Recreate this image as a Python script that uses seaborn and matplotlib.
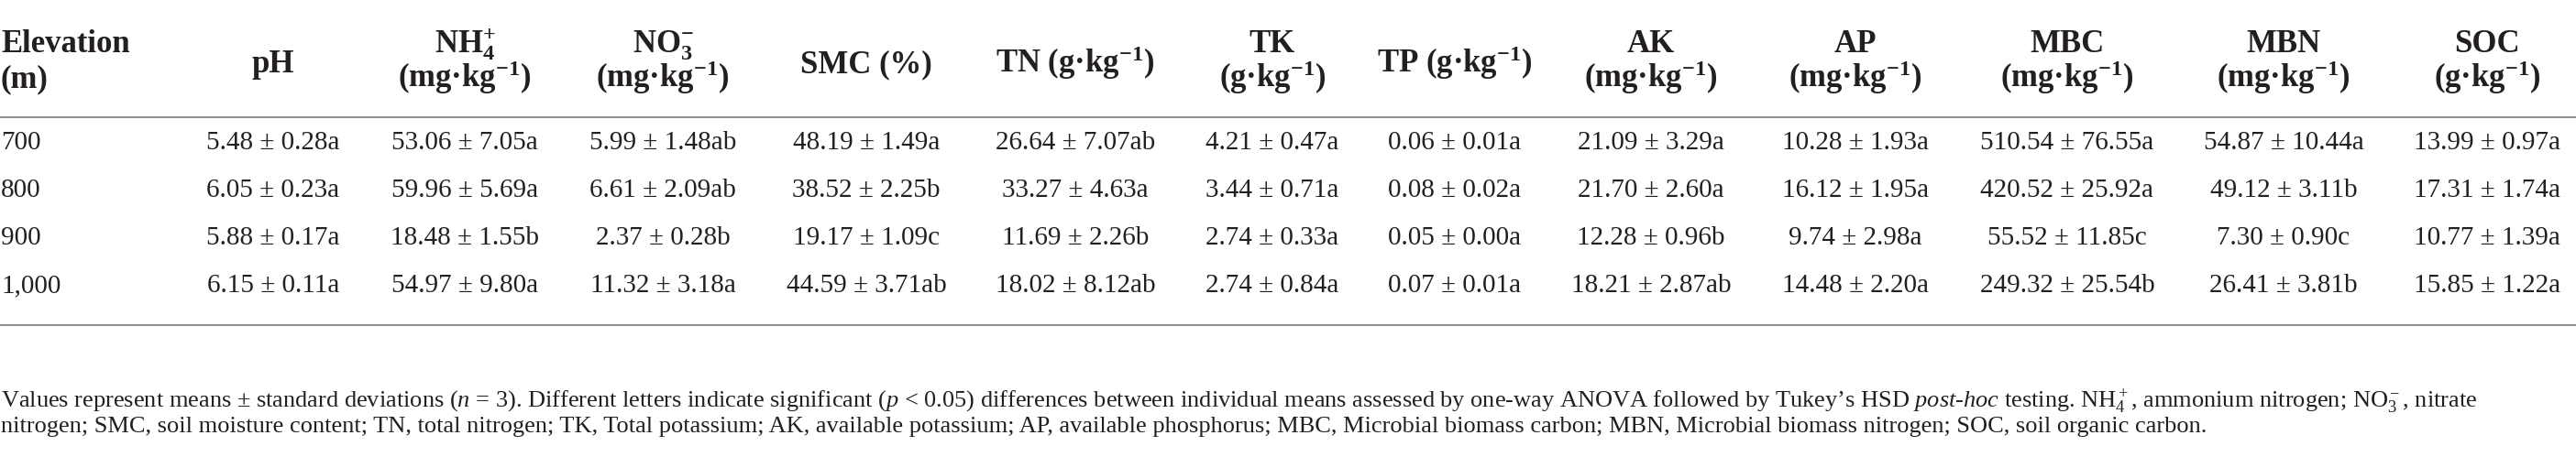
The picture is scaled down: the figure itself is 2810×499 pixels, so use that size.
import matplotlib
matplotlib.use("Agg")
import matplotlib.pyplot as plt
import seaborn as sns

# ─── Table values (mean, sd, Tukey group) ─────────────────────────
elevation = ["700", "800", "900", "1,000"]

ph  = [(5.48, 0.28, "a"), (6.05, 0.23, "a"), (5.88, 0.17, "a"), (6.15, 0.11, "a")]
nh4 = [(53.06, 7.05, "a"), (59.96, 5.69, "a"), (18.48, 1.55, "b"), (54.97, 9.80, "a")]
no3 = [(5.99, 1.48, "ab"), (6.61, 2.09, "ab"), (2.37, 0.28, "b"), (11.32, 3.18, "a")]
smc = [(48.19, 1.49, "a"), (38.52, 2.25, "b"), (19.17, 1.09, "c"), (44.59, 3.71, "ab")]
tn  = [(26.64, 7.07, "ab"), (33.27, 4.63, "a"), (11.69, 2.26, "b"), (18.02, 8.12, "ab")]
tk  = [(4.21, 0.47, "a"), (3.44, 0.71, "a"), (2.74, 0.33, "a"), (2.74, 0.84, "a")]
tp  = [(0.06, 0.01, "a"), (0.08, 0.02, "a"), (0.05, 0.00, "a"), (0.07, 0.01, "a")]
ak  = [(21.09, 3.29, "a"), (21.70, 2.60, "a"), (12.28, 0.96, "b"), (18.21, 2.87, "ab")]
ap  = [(10.28, 1.93, "a"), (16.12, 1.95, "a"), (9.74, 2.98, "a"), (14.48, 2.20, "a")]
mbc = [(510.54, 76.55, "a"), (420.52, 25.92, "a"), (55.52, 11.85, "c"), (249.32, 25.54, "b")]
mbn = [(54.87, 10.44, "a"), (49.12, 3.11, "b"), (7.30, 0.90, "c"), (26.41, 3.81, "b")]
soc = [(13.99, 0.97, "a"), (17.31, 1.74, "a"), (10.77, 1.39, "a"), (15.85, 1.22, "a")]

columns = [ph, nh4, no3, smc, tn, tk, tp, ak, ap, mbc, mbn, soc]

MG = r"(mg·kg$^{\mathbf{-1}}$)"
G = r"(g·kg$^{\mathbf{-1}}$)"
headers = [
    ["pH"],
    [r"NH$_{\mathbf{4}}^{\mathbf{+}}$", MG],
    [r"NO$_{\mathbf{3}}^{\mathbf{-}}$", MG],
    ["SMC (%)"],
    [r"TN (g·kg$^{\mathbf{-1}}$)"],
    ["TK", G],
    [r"TP (g·kg$^{\mathbf{-1}}$)"],
    ["AK", MG],
    ["AP", MG],
    ["MBC", MG],
    ["MBN", MG],
    ["SOC", G],
]

note_1 = (r"Values represent means ± standard deviations ($\mathit{n}$ = 3). Different letters "
          r"indicate significant ($\mathit{p}$ < 0.05) differences between individual means assessed "
          r"by one-way ANOVA followed by Tukey’s HSD $\mathit{post}$-$\mathit{hoc}$ testing. "
          r"NH$_4^+$, ammonium nitrogen; NO$_3^-$, nitrate")
note_2 = ("nitrogen; SMC, soil moisture content; TN, total nitrogen; TK, Total potassium; "
          "AK, available potassium; AP, available phosphorus; MBC, Microbial biomass carbon; "
          "MBN, Microbial biomass nitrogen; SOC, soil organic carbon.")

# ─── Style ────────────────────────────────────────────────────────
sns.set_theme(style="white")
plt.rcParams.update({
    "font.family": ["Liberation Serif", "DejaVu Serif"],
    "mathtext.fontset": "custom",
    "mathtext.rm": "Liberation Serif",
    "mathtext.it": "Liberation Serif:italic",
    "mathtext.bf": "Liberation Serif:bold",
})
INK = "#231f20"
RULE = "#8c8c8c"
HEAD_FS, BODY_FS, NOTE_FS = 25, 21, 19

# ─── Layout (pixel coords) ────────────────────────────────────────
col_x = [298, 507, 723, 945, 1173, 1388, 1587, 1801, 2024, 2255, 2491, 2713]
row_y = [163, 215, 267, 319]

fig = plt.figure(figsize=(28.1, 4.99), dpi=100)
ax = fig.add_axes([0, 0, 1, 1])
ax.set_xlim(0, 2810)
ax.set_ylim(499, 0)
ax.axis("off")

# header
ax.text(1, 57, "Elevation", fontsize=HEAD_FS, fontweight="bold", color=INK, va="baseline")
ax.text(1, 95, "(m)", fontsize=HEAD_FS, fontweight="bold", color=INK, va="baseline")
for x, lines in zip(col_x, headers):
    ys = [79] if len(lines) == 1 else [57, 95]
    for y, s in zip(ys, lines):
        ax.text(x, y, s, fontsize=HEAD_FS, fontweight="bold", color=INK,
                ha="center", va="baseline")

ax.axhline(128, color=RULE, lw=1.4)
ax.axhline(355, color=RULE, lw=1.4)

# body
for y, e in zip(row_y, elevation):
    ax.text(1, y, e, fontsize=BODY_FS, color=INK, va="baseline")
for x, col in zip(col_x, columns):
    for y, (m, sd, grp) in zip(row_y, col):
        ax.text(x, y, f"{m:.2f} ± {sd:.2f}{grp}", fontsize=BODY_FS, color=INK,
                ha="center", va="baseline")

# footnote
ax.text(1, 444, note_1, fontsize=NOTE_FS, color=INK, va="baseline")
ax.text(1, 472, note_2, fontsize=NOTE_FS, color=INK, va="baseline")

fig.savefig("out.png", dpi=100)
